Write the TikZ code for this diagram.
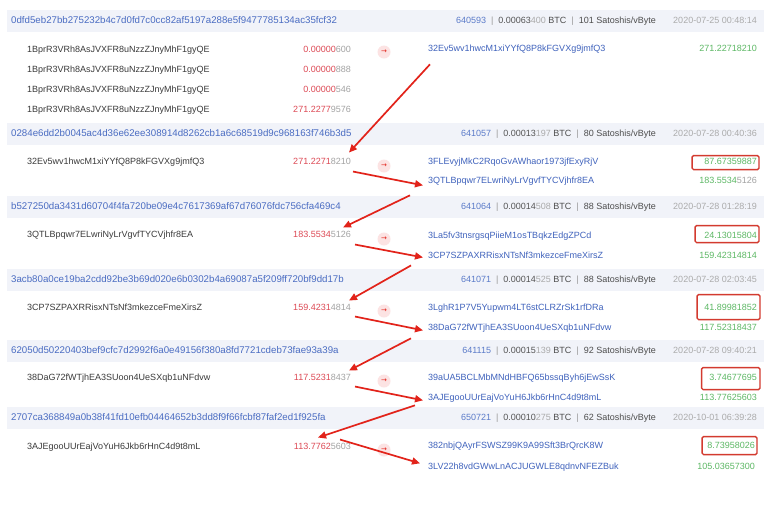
\documentclass[tikz,border=0pt]{standalone}
\usepackage{fontspec}
\setmainfont{Liberation Sans}
\newfontfamily\symf{DejaVu Sans}
\usetikzlibrary{calc,arrows.meta}
\definecolor{band}{HTML}{F1F3F9}
\definecolor{hashblue}{HTML}{4A6CC2}
\definecolor{numblue}{HTML}{5B7BC9}
\definecolor{feedark}{HTML}{555555}
\definecolor{feelight}{HTML}{AAAAAA}
\definecolor{infodark}{HTML}{4D4D4D}
\definecolor{sepgray}{HTML}{999999}
\definecolor{dategray}{HTML}{ABABAB}
\definecolor{addrdark}{HTML}{3A3A3A}
\definecolor{amtred}{HTML}{DD4A55}
\definecolor{amtgrey}{HTML}{A3A3A3}
\definecolor{outblue}{HTML}{3F62BC}
\definecolor{amtgreen}{HTML}{5DB865}
\definecolor{boxred}{HTML}{D33A2F}
\definecolor{arrowred}{HTML}{E2231A}
\definecolor{pinkbg}{HTML}{FCE3E3}
\newcommand{\barsep}{\hspace{5pt}\textcolor{sepgray}{|}\hspace{5pt}}
\newcommand{\blk}[1]{\textcolor{numblue}{#1}}
\newcommand{\feeamt}[2]{\textcolor{feedark}{#1}\textcolor{feelight}{#2} BTC}
\newcommand{\ramt}[2]{\textcolor{amtred}{#1}\textcolor{amtgrey}{#2}}
\newcommand{\gamt}[2]{\textcolor{amtgreen}{#1}\textcolor{amtgrey}{#2}}
\newcommand{\goarr}{\textcolor{arrowred}{\symf\fontsize{7}{7}\selectfont →}}
\begin{document}
\begin{tikzpicture}[x=1pt,y=-1pt,
  every node/.style={inner sep=0pt, font=\fontsize{9}{11}\selectfont},
  hash/.style={anchor=mid west, text=hashblue, font=\fontsize{9.7}{11}\selectfont},
  info/.style={anchor=mid east, text=infodark},
  date/.style={anchor=mid east, text=dategray},
  inaddr/.style={anchor=mid west, text=addrdark},
  inamt/.style={anchor=mid east},
  outaddr/.style={anchor=mid west, text=outblue},
  outamt/.style={anchor=mid east, text=amtgreen},
  go/.style={circle, fill=pinkbg, minimum size=13pt, inner sep=0pt},
  redbox/.style={draw=boxred, line width=1.4pt, rounded corners=1.5pt},
  redarrow/.style={draw=arrowred, line width=1.7pt, -{Triangle[length=8pt,width=7pt]}},
  bandfill/.style={fill=band}]
\fill[white] (0,0) rectangle (775,515);
\useasboundingbox (0,0) rectangle (775,515);
% header bands
\foreach \yh in {21,134,207,280,351,418}{
  \fill[bandfill] (7,\yh-11) rectangle (764,\yh+11);
}
% ---------- block 1
\node[hash] (h1) at (11,21) {0dfd5eb27bb275232b4c7d0fd7c0cc82af5197a288e5f9477785134ac35fcf32};
\node[info] (n1) at (656,21) {\blk{640593}\barsep\feeamt{0.00063}{400}\barsep 101 Satoshis/vByte};
\node[date] (d1) at (757,21) {2020-07-25 00:48:14};
\node[inaddr] (b1i1) at (27,50) {1BprR3VRh8AsJVXFR8uNzzZJnyMhF1gyQE};
\node[inamt] (b1v1) at (351,50) {\ramt{0.00000}{600}};
\node[inaddr] (b1i2) at (27,70) {1BprR3VRh8AsJVXFR8uNzzZJnyMhF1gyQE};
\node[inamt] (b1v2) at (351,70) {\ramt{0.00000}{888}};
\node[inaddr] (b1i3) at (27,90) {1BprR3VRh8AsJVXFR8uNzzZJnyMhF1gyQE};
\node[inamt] (b1v3) at (351,90) {\ramt{0.00000}{546}};
\node[inaddr] (b1i4) at (27,110) {1BprR3VRh8AsJVXFR8uNzzZJnyMhF1gyQE};
\node[inamt] (b1v4) at (351,110) {\ramt{271.2277}{9576}};
\node[go] (g1) at (384,52) {\goarr};
\node[outaddr] (b1o1) at (428,49) {32Ev5wv1hwcM1xiYYfQ8P8kFGVXg9jmfQ3};
\node[outamt] (b1w1) at (757,49) {271.22718210};
% ---------- block 2
\node[hash] (h2) at (11,134) {0284e6dd2b0045ac4d36e62ee308914d8262cb1a6c68519d9c968163f746b3d5};
\node[info] (n2) at (656,134) {\blk{641057}\barsep\feeamt{0.00013}{197}\barsep 80 Satoshis/vByte};
\node[date] (d2) at (757,134) {2020-07-28 00:40:36};
\node[inaddr] (b2i1) at (27,162) {32Ev5wv1hwcM1xiYYfQ8P8kFGVXg9jmfQ3};
\node[inamt] (b2iv) at (351,162) {\ramt{271.2271}{8210}};
\node[go] (g2) at (384,166) {\goarr};
\node[outaddr] (b2o1) at (428,162) {3FLEvyjMkC2RqoGvAWhaor1973jfExyRjV};
\node[outamt] (b2w1) at (757,162) {87.67359887};
\node[outaddr] (b2o2) at (428,181) {3QTLBpqwr7ELwriNyLrVgvfTYCVjhfr8EA};
\node[outamt] (b2w2) at (757,181) {\gamt{183.5534}{5126}};
% ---------- block 3
\node[hash] (h3) at (11,207) {b527250da3431d60704f4fa720be09e4c7617369af67d76076fdc756cfa469c4};
\node[info] (n3) at (656,207) {\blk{641064}\barsep\feeamt{0.00014}{508}\barsep 88 Satoshis/vByte};
\node[date] (d3) at (757,207) {2020-07-28 01:28:19};
\node[inaddr] (b3i1) at (27,235) {3QTLBpqwr7ELwriNyLrVgvfTYCVjhfr8EA};
\node[inamt] (b3iv) at (351,235) {\ramt{183.5534}{5126}};
\node[go] (g3) at (384,239) {\goarr};
\node[outaddr] (b3o1) at (428,236) {3La5fv3tnsrgsqPiieM1osTBqkzEdgZPCd};
\node[outamt] (b3w1) at (757,236) {24.13015804};
\node[outaddr] (b3o2) at (428,256) {3CP7SZPAXRRisxNTsNf3mkezceFmeXirsZ};
\node[outamt] (b3w2) at (757,256) {159.42314814};
% ---------- block 4
\node[hash] (h4) at (11,280) {3acb80a0ce19ba2cdd92be3b69d020e6b0302b4a69087a5f209ff720bf9dd17b};
\node[info] (n4) at (656,280) {\blk{641071}\barsep\feeamt{0.00014}{525}\barsep 88 Satoshis/vByte};
\node[date] (d4) at (757,280) {2020-07-28 02:03:45};
\node[inaddr] (b4i1) at (27,308) {3CP7SZPAXRRisxNTsNf3mkezceFmeXirsZ};
\node[inamt] (b4iv) at (351,308) {\ramt{159.4231}{4814}};
\node[go] (g4) at (384,311) {\goarr};
\node[outaddr] (b4o1) at (428,308) {3LghR1P7V5Yupwm4LT6stCLRZrSk1rfDRa};
\node[outamt] (b4w1) at (757,308) {41.89981852};
\node[outaddr] (b4o2) at (428,328) {38DaG72fWTjhEA3SUoon4UeSXqb1uNFdvw};
\node[outamt] (b4w2) at (757,328) {117.52318437};
% ---------- block 5
\node[hash] (h5) at (11,351) {62050d50220403bef9cfc7d2992f6a0e49156f380a8fd7721cdeb73fae93a39a};
\node[info] (n5) at (656,351) {\blk{641115}\barsep\feeamt{0.00015}{139}\barsep 92 Satoshis/vByte};
\node[date] (d5) at (757,351) {2020-07-28 09:40:21};
\node[inaddr] (b5i1) at (27,378) {38DaG72fWTjhEA3SUoon4UeSXqb1uNFdvw};
\node[inamt] (b5iv) at (351,378) {\ramt{117.5231}{8437}};
\node[go] (g5) at (384,381) {\goarr};
\node[outaddr] (b5o1) at (428,378) {39aUA5BCLMbMNdHBFQ65bssqByh6jEwSsK};
\node[outamt] (b5w1) at (757,378) {3.74677695};
\node[outaddr] (b5o2) at (428,398) {3AJEgooUUrEajVoYuH6Jkb6rHnC4d9t8mL};
\node[outamt] (b5w2) at (757,398) {113.77625603};
% ---------- block 6
\node[hash] (h6) at (11,418) {2707ca368849a0b38f41fd10efb04464652b3dd8f9f66fcbf87faf2ed1f925fa};
\node[info] (n6) at (656,418) {\blk{650721}\barsep\feeamt{0.00010}{275}\barsep 62 Satoshis/vByte};
\node[date] (d6) at (757,418) {2020-10-01 06:39:28};
\node[inaddr] (b6i1) at (27,447) {3AJEgooUUrEajVoYuH6Jkb6rHnC4d9t8mL};
\node[inamt] (b6iv) at (351,447) {\ramt{113.7762}{5603}};
\node[go] (g6) at (384,450) {\goarr};
\node[outaddr] (b6o1) at (428,446) {382nbjQAyrFSWSZ99K9A99Sft3BrQrcK8W};
\node[outamt] (b6w1) at (755,446) {8.73958026};
\node[outaddr] (b6o2) at (428,467) {3LV22h8vdGWwLnACJUGWLE8qdnvNFEZBuk};
\node[outamt] (b6w2) at (755,467) {105.03657300};
% ---------- red boxes
\draw[redbox] ($(b2w1.west)+(-12,-6)$) rectangle ($(b2w1.east)+(2,8)$);
\draw[redbox] ($(b3w1.west)+(-9,-10)$) rectangle ($(b3w1.east)+(2,7)$);
\draw[redbox] ($(b4w1.west)+(-7,-13)$) rectangle ($(b4w1.east)+(3,12)$);
\draw[redbox] ($(b5w1.west)+(-7.5,-10)$) rectangle ($(b5w1.east)+(3,12)$);
\draw[redbox] ($(b6w1.west)+(-5,-9)$) rectangle ($(b6w1.east)+(2,9)$);
% ---------- red arrows
\draw[redarrow] ($(b1o1.west)+(2,15)$) -- ($(b2iv.east)+(-2,-9)$);
\draw[redarrow] ($(b2iv.east)+(2,10)$) -- ($(b2o2.west)+(-5,4)$);
\draw[redarrow] ($(b2o2.west)+(-18,14)$) -- ($(b3iv.east)+(-8,-7)$);
\draw[redarrow] ($(b3iv.east)+(4,10)$) -- ($(b3o2.west)+(-5,2)$);
\draw[redarrow] ($(b3o2.west)+(-17,10)$) -- ($(b4iv.east)+(-2,-7)$);
\draw[redarrow] ($(b4iv.east)+(4,9)$) -- ($(b4o2.west)+(-5,2)$);
\draw[redarrow] ($(b4o2.west)+(-17,10)$) -- ($(b5iv.east)+(-2,-7)$);
\draw[redarrow] ($(b5iv.east)+(4,9)$) -- ($(b5o2.west)+(-5,2)$);
\draw[redarrow] ($(b5o2.west)+(-13,7)$) -- ($(b6iv.east)+(-33,-9)$);
\draw[redarrow] ($(b6iv.east)+(-11,-7)$) -- ($(b6o2.west)+(-8,-4)$);
\end{tikzpicture}
\end{document}
